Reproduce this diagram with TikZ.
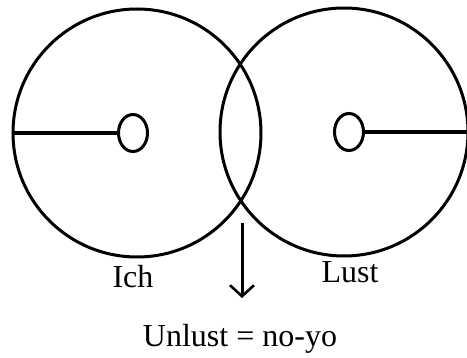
\documentclass[tikz,border=0pt]{standalone}
\usepackage{fontspec}
\setmainfont{Liberation Serif}
\usetikzlibrary{shapes.geometric,arrows.meta}
\begin{document}
\begin{tikzpicture}[x=1pt,y=-1pt,
  big/.style={circle,draw,line width=3pt,minimum size=248pt,inner sep=0pt},
  small/.style={ellipse,draw,line width=3pt,minimum width=29pt,minimum height=37pt,inner sep=0pt},
  spoke/.style={line width=3.6pt},
  lbl/.style={anchor=base,font=\fontsize{32}{36}\selectfont,inner sep=0pt}]
\useasboundingbox[fill=white] (0,0) rectangle (467,358);
\node[big] (L) at (137,133) {};
\node[big] (R) at (344,132) {};
\node[small] (l) at (133,133) {};
\node[small] (r) at (349,132) {};
\draw[spoke] (L.west) -- (l.west);
\draw[spoke] (r.east) -- (R.east);
\coordinate (a1) at (242,223);
\coordinate (a2) at (242,298);
\draw[line width=3pt,-{Straight Barb[length=11pt,width=24pt,line width=2.6pt]}] (a1) -- (a2);
\node[lbl] (ich) at (133,288) {Ich};
\node[lbl] (lust) at (350,283) {Lust};
\node[lbl] (un) at (240,347) {Unlust = no-yo};
\end{tikzpicture}
\end{document}
